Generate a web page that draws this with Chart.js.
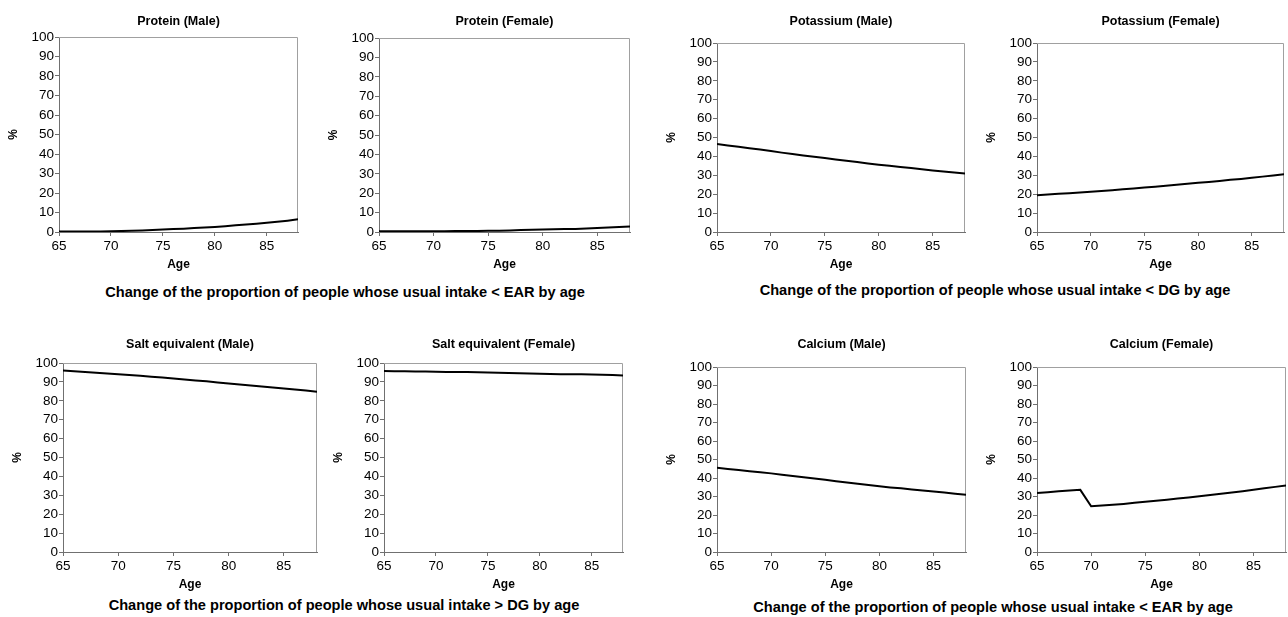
<!DOCTYPE html>
<html>
<head>
<meta charset="utf-8">
<script src="https://cdn.jsdelivr.net/npm/chart.js@4.4.1/dist/chart.umd.min.js"></script>
<style>
  body { margin: 0; background: #fff; width: 1288px; height: 617px; position: relative; overflow: hidden;
         font-family: "Liberation Sans", Arial, sans-serif; }
  canvas { position: absolute; }
  .cap { position: absolute; font-weight: bold; font-size: 14.6px; white-space: nowrap; color: #000;
         transform: translate(-50%, -50%); }
</style>
</head>
<body>

<div class="cap" style="left:345px; top:292px;">Change of the proportion of people whose usual intake &lt; EAR by age</div>
<div class="cap" style="left:995px; top:290px;">Change of the proportion of people whose usual intake &lt; DG by age</div>
<div class="cap" style="left:344px; top:605px;">Change of the proportion of people whose usual intake &gt; DG by age</div>
<div class="cap" style="left:993px; top:607px;">Change of the proportion of people whose usual intake &lt; EAR by age</div>

<script>
// ── Data (% by age) ──
const ages = [65, 66, 67, 68, 69, 70, 71, 72, 73, 74, 75, 76, 77, 78, 79, 80, 81, 82, 83, 84, 85, 86, 87, 88];
const xTicks = [65, 70, 75, 80, 85];
const yTicks = [0, 10, 20, 30, 40, 50, 60, 70, 80, 90, 100];

const proteinMale     = [0.2, 0.2, 0.2, 0.3, 0.3, 0.4, 0.5, 0.6, 0.8, 1.0, 1.3, 1.5, 1.7, 2.0, 2.3, 2.6, 3.0, 3.4, 3.8, 4.2, 4.7, 5.2, 5.8, 6.5];
const proteinFemale   = [0.4, 0.4, 0.4, 0.4, 0.4, 0.4, 0.4, 0.5, 0.5, 0.5, 0.6, 0.7, 0.8, 1.0, 1.1, 1.3, 1.4, 1.5, 1.6, 1.8, 2.0, 2.3, 2.6, 2.9];
const potassiumMale   = [46.5, 45.8, 45.1, 44.3, 43.6, 42.8, 42.0, 41.3, 40.5, 39.8, 39.1, 38.4, 37.7, 37.0, 36.3, 35.6, 35.0, 34.4, 33.8, 33.2, 32.6, 32.0, 31.5, 31.0];
const potassiumFemale = [19.5, 19.8, 20.2, 20.5, 20.9, 21.3, 21.7, 22.1, 22.6, 23.0, 23.5, 24.0, 24.5, 25.0, 25.5, 26.0, 26.5, 27.0, 27.6, 28.1, 28.7, 29.3, 29.9, 30.5];
const saltMale        = [96.0, 95.6, 95.2, 94.8, 94.4, 94.0, 93.6, 93.2, 92.7, 92.3, 91.8, 91.3, 90.8, 90.3, 89.7, 89.1, 88.6, 88.1, 87.6, 87.1, 86.5, 86.0, 85.4, 84.8];
const saltFemale      = [95.8, 95.7, 95.6, 95.5, 95.5, 95.4, 95.3, 95.3, 95.2, 95.1, 95.0, 94.9, 94.7, 94.6, 94.5, 94.3, 94.2, 94.1, 94.0, 94.0, 93.9, 93.8, 93.6, 93.4];
const calciumMale     = [45.5, 44.9, 44.3, 43.7, 43.1, 42.5, 41.8, 41.1, 40.4, 39.7, 39.0, 38.3, 37.6, 36.9, 36.2, 35.5, 34.9, 34.4, 33.8, 33.2, 32.7, 32.1, 31.5, 31.0];
const calciumFemale   = [31.9, 32.3, 32.8, 33.2, 33.6, 24.7, 25.1, 25.5, 26.0, 26.6, 27.2, 27.7, 28.3, 28.9, 29.5, 30.1, 30.8, 31.5, 32.2, 32.9, 33.7, 34.4, 35.2, 36.0];

// ── Panel layout (plot area box in page pixels, title centre y) ──
const panels = [
  { title: 'Protein (Male)',            values: proteinMale,     L: 59,   T: 37,  R: 298,  B: 232, tY: 21 },
  { title: 'Protein (Female)',          values: proteinFemale,   L: 379,  T: 38,  R: 630,  B: 232, tY: 21 },
  { title: 'Potassium (Male)',          values: potassiumMale,   L: 717,  T: 43,  R: 965,  B: 232, tY: 21 },
  { title: 'Potassium (Female)',        values: potassiumFemale, L: 1037, T: 43,  R: 1284, B: 232, tY: 21 },
  { title: 'Salt equivalent (Male)',    values: saltMale,        L: 63,   T: 363, R: 317,  B: 552, tY: 344 },
  { title: 'Salt equivalent (Female)',  values: saltFemale,      L: 384,  T: 363, R: 623,  B: 552, tY: 344 },
  { title: 'Calcium (Male)',            values: calciumMale,     L: 717,  T: 367, R: 966,  B: 552, tY: 344 },
  { title: 'Calcium (Female)',          values: calciumFemale,   L: 1037, T: 367, R: 1286, B: 552, tY: 344 }
];

const FONT = '"Liberation Sans", Arial, sans-serif';
const Y_AXIS_W = 54;
const X_AXIS_H = 45;
const TITLE_SIZE = 12.5;
const TICK_SIZE = 13.5;

// light grey frame on top and right of plot area
const framePlugin = {
  id: 'frame',
  beforeDatasetsDraw(chart) {
    const { ctx, chartArea: a } = chart;
    ctx.save();
    ctx.strokeStyle = '#a0a0a0';
    ctx.lineWidth = 1;
    ctx.beginPath();
    ctx.moveTo(a.left, a.top + 0.5);
    ctx.lineTo(a.right - 0.5, a.top + 0.5);
    ctx.lineTo(a.right - 0.5, a.bottom);
    ctx.stroke();
    ctx.restore();
  }
};

// ── Build one chart per panel ─────────────────
function makePanel(p) {
  const lh = TITLE_SIZE * 1.2;
  const padTop = 2;
  const top = Math.round(p.tY - padTop - lh / 2);
  const left = p.L - Y_AXIS_W;
  const width = p.R + 3 - left;
  const height = p.B + X_AXIS_H - top;

  const cv = document.createElement('canvas');
  cv.width = width;
  cv.height = height;
  cv.style.left = left + 'px';
  cv.style.top = top + 'px';
  cv.style.width = width + 'px';
  cv.style.height = height + 'px';
  document.body.appendChild(cv);

  const tickGrid = { drawOnChartArea: false, drawTicks: true, tickLength: 4, color: '#707070' };

  new Chart(cv.getContext('2d'), {
    type: 'line',
    data: {
      datasets: [{
        data: ages.map((a, i) => ({ x: a, y: p.values[i] })),
        borderColor: '#000',
        borderWidth: 2,
        pointRadius: 0,
        tension: 0,
        fill: false
      }]
    },
    options: {
      responsive: false,
      animation: false,
      devicePixelRatio: 1,
      layout: { padding: { top: 0, left: 0, bottom: 0, right: 3 } },
      plugins: {
        legend: { display: false },
        tooltip: { enabled: false },
        title: {
          display: true,
          fullSize: false,
          text: p.title,
          color: '#000',
          font: { family: FONT, size: TITLE_SIZE, weight: 'bold' },
          padding: { top: padTop, bottom: p.T - top - padTop - lh }
        }
      },
      scales: {
        x: {
          type: 'linear',
          min: 65,
          max: 88,
          afterBuildTicks: s => { s.ticks = xTicks.map(v => ({ value: v })); },
          afterFit: s => { s.height = X_AXIS_H; },
          ticks: { color: '#000', font: { family: FONT, size: TICK_SIZE }, padding: 2, maxRotation: 0, autoSkip: false },
          grid: tickGrid,
          border: { display: true, color: '#707070', width: 1 },
          title: {
            display: true, text: 'Age', color: '#000',
            font: { family: FONT, size: 12, weight: 'bold' },
            padding: { top: 0, bottom: 5 }
          }
        },
        y: {
          min: 0,
          max: 100,
          afterBuildTicks: s => { s.ticks = yTicks.map(v => ({ value: v })); },
          afterFit: s => { s.width = Y_AXIS_W; },
          ticks: { color: '#000', font: { family: FONT, size: TICK_SIZE }, padding: 1, autoSkip: false },
          grid: tickGrid,
          border: { display: true, color: '#707070', width: 1 },
          title: {
            display: true, text: '%', color: '#000',
            font: { family: FONT, size: 12, weight: 'bold' },
            padding: { top: 1, bottom: 0 }
          }
        }
      }
    },
    plugins: [framePlugin]
  });
}

panels.forEach(makePanel);
</script>
</body>
</html>
